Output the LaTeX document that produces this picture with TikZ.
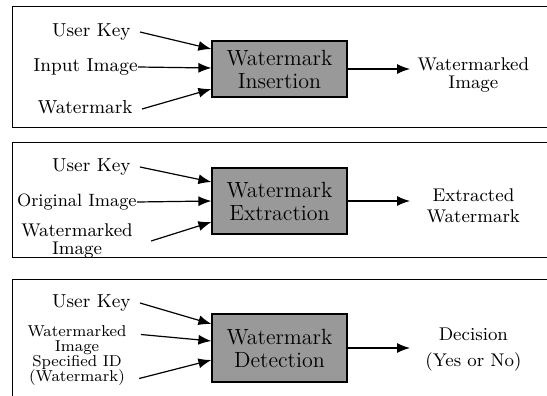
\documentclass[tikz,border=0pt]{standalone}
\usepackage{tikz}
\usetikzlibrary{arrows.meta}

\tikzset{
    lbl/.style={inner sep=0pt, font=\fontsize{9.4}{8}\selectfont, align=center},
    outl/.style={lbl, anchor=west, text width=63pt},
    wmbox/.style={draw, line width=0.6pt, fill=black!40, minimum width=67.5pt,
        font=\fontsize{11}{11.5}\selectfont, align=center, inner sep=0pt},
    arr/.style={-{Latex[length=6.5pt,width=5pt]}, line width=0.6pt},
    frame/.style={line width=0.45pt}
}

\begin{document}
\begin{tikzpicture}[x=0.5pt,y=-0.5pt]
    \useasboundingbox (0,0) rectangle (547,396);

    % panel frames
    \draw[frame](547,6)--(12,6)--(12,127)--(547,127);
    \draw[frame](547,142)--(12,142)--(12,257)--(547,257);
    \draw[frame](547,279)--(12,279)--(12,396);

    % insertion
    \node[wmbox, minimum height=28pt] (boxA) at (279.5,69) {Watermark\\Insertion};
    \node[lbl, anchor=east] (ukA) at (131,32) {User Key};
    \node[lbl, anchor=east] (inA) at (138,67) {Input Image};
    \node[lbl, anchor=east] (wmA) at (133,107) {Watermark};
    \node[outl, font=\fontsize{9.2}{8.6}\selectfont] (outA) at (410,75) {Watermarked\\Image};
    \draw[arr]([xshift=4.5pt]ukA.east)--([yshift=10pt]boxA.west);
    \draw[arr](inA.east)--([yshift=0.5pt]boxA.west);
    \draw[arr]([xshift=4.5pt,yshift=-1pt]wmA.east)--([yshift=-10pt]boxA.west);
    \draw[arr](boxA.east)--(boxA.east-|outA.west);

    % extraction
    \node[wmbox, minimum height=33pt] (boxB) at (279.5,201) {Watermark\\Extraction};
    \node[lbl, anchor=east] (ukB) at (131,167) {User Key};
    \node[lbl, anchor=east, font=\fontsize{8.9}{8}\selectfont] (orB) at (137,202) {Original Image};
    \node[lbl, font=\fontsize{9.2}{8.6}\selectfont] (wmB) at (77,241) {Watermarked\\Image};
    \node[outl, font=\fontsize{9.2}{10.5}\selectfont] (outB) at (410,206) {Extracted\\Watermark};
    \draw[arr]([xshift=4.5pt]ukB.east)--([yshift=9.5pt]boxB.west);
    \draw[arr](orB.east)--(boxB.west);
    \draw[arr]([xshift=9pt]wmB.east)--([yshift=-10.5pt]boxB.west);
    \draw[arr](boxB.east)--(boxB.east-|outB.west);

    % detection
    \node[wmbox, minimum height=34pt] (boxC) at (279.5,348) {Watermark\\Detection};
    \node[lbl, anchor=east] (ukC) at (131,303) {User Key};
    \node[lbl, font=\fontsize{7.9}{7.5}\selectfont] (wmC) at (77,340.5) {Watermarked\\Image};
    \node[lbl, font=\fontsize{7.9}{7.5}\selectfont] (idC) at (77,370.5) {Specified ID\\(Watermark)};
    \node[outl, font=\fontsize{9.2}{13}\selectfont] (outC) at (410,350) {Decision\\(Yes or No)};
    \draw[arr]([xshift=4.5pt]ukC.east)--([yshift=12pt]boxC.west);
    \draw[arr]([xshift=7pt,yshift=3pt]wmC.east)--([yshift=3.5pt]boxC.west);
    \draw[arr]([xshift=7pt,yshift=-4pt]idC.east)--([yshift=-6pt]boxC.west);
    \draw[arr](boxC.east)--(boxC.east-|outC.west);
\end{tikzpicture}
\end{document}
